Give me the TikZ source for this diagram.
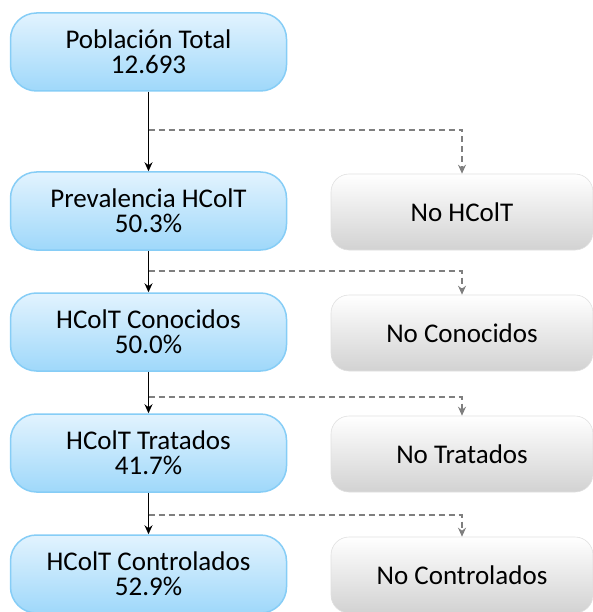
\documentclass[tikz,border=0pt]{standalone}
\usepackage{fontspec}
\setmainfont{Carlito}
\usetikzlibrary{arrows.meta}
\definecolor{bluetop}{HTML}{E2F3FE}
\definecolor{bluemid}{HTML}{C9EAFC}
\definecolor{bluebot}{HTML}{9FD8FA}
\definecolor{blueedge}{HTML}{86CDF6}
\definecolor{graytop}{HTML}{FFFFFF}
\definecolor{graymid}{HTML}{F1F1F1}
\definecolor{graybot}{HTML}{D2D2D2}
\definecolor{grayedge}{HTML}{E0E0E0}
\definecolor{dashgray}{HTML}{7F7F7F}

\begin{document}
\begin{tikzpicture}[x=1pt, y=-1pt, >={Stealth[length=9pt,width=8pt]},
    bluebox/.style={rounded corners=26pt, minimum width=276pt, minimum height=78pt,
        top color=bluetop, middle color=bluemid, bottom color=bluebot, draw=blueedge, line width=1.5pt,
        align=center, font=\fontsize{27}{25}\selectfont},
    graybox/.style={rounded corners=18pt, minimum width=262pt, minimum height=76pt,
        top color=graytop, middle color=graymid, bottom color=graybot, draw=grayedge, line width=0.6pt,
        align=center, font=\fontsize{27}{25}\selectfont},
    mainarrow/.style={->, black, line width=1.3pt},
    sidearrow/.style={->, dashgray, line width=1.2pt, dash pattern=on 6pt off 4pt}]
    \useasboundingbox (0,0) rectangle (592,612);

    \node[bluebox] (T) at (148.5,52) {Población Total\\12.693};
    \node[bluebox] (P) at (148.5,211) {Prevalencia HColT\\50.3\%};
    \node[bluebox] (K) at (148.5,332) {HColT Conocidos\\50.0\%};
    \node[bluebox] (R) at (148.5,453) {HColT Tratados\\41.7\%};
    \node[bluebox] (C) at (148.5,574) {HColT Controlados\\52.9\%};

    \node[graybox] (NP) at (462,212) {No HColT};
    \node[graybox] (NK) at (462,333) {No Conocidos};
    \node[graybox] (NR) at (462,454) {No Tratados};
    \node[graybox] (NC) at (462,575) {No Controlados};

    \coordinate (b1) at (148.5,130);
    \coordinate (b2) at (148.5,271);
    \coordinate (b3) at (148.5,397);
    \coordinate (b4) at (148.5,515);

    \path[mainarrow]
    (T) edge (P)
    (P) edge (K)
    (K) edge (R)
    (R) edge (C);

    \draw[sidearrow] (b1) -| (NP.north);
    \draw[sidearrow] (b2) -| (NK.north);
    \draw[sidearrow] (b3) -| (NR.north);
    \draw[sidearrow] (b4) -| (NC.north);
\end{tikzpicture}
\end{document}
